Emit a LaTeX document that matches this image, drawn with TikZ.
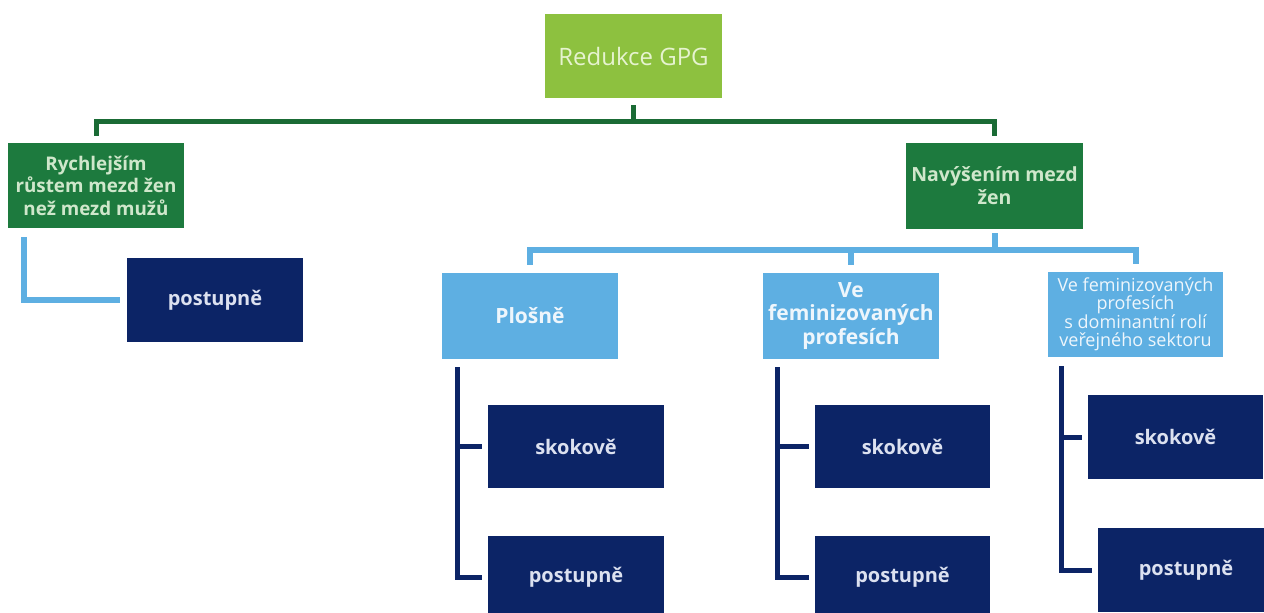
\documentclass[tikz,border=0pt]{standalone}
\usepackage{fontspec}
\setmainfont{Open Sans}
\usetikzlibrary{calc}
\definecolor{lgreen}{HTML}{8DC13F}
\definecolor{dgreen}{HTML}{1D7A3E}
\definecolor{gline}{HTML}{1A6B35}
\definecolor{lblue}{HTML}{5EAFE2}
\definecolor{navy}{HTML}{0C2466}
\definecolor{toptext}{HTML}{E6F3CF}
\definecolor{gtext}{HTML}{CFE7CB}
\definecolor{btext}{HTML}{EEF6FC}
\definecolor{ntext}{HTML}{DCE1F0}
\tikzset{
  box/.style={rectangle, inner sep=0pt, align=center, anchor=center},
  topbox/.style={box, fill=lgreen, text=toptext, minimum width=177pt, minimum height=84pt, font=\fontsize{24}{28}\selectfont},
  greenbox/.style={box, fill=dgreen, text=gtext, minimum width=176pt, minimum height=85pt, font=\bfseries\fontsize{18.8}{22.5}\selectfont},
  bluebox/.style={box, fill=lblue, text=btext, minimum width=176pt, minimum height=86pt, font=\bfseries\fontsize{21}{23.5}\selectfont},
  bluesmall/.style={box, fill=lblue, text=btext, minimum width=175pt, minimum height=85pt, font=\fontsize{18}{18.5}\selectfont},
  navybox/.style={box, fill=navy, text=ntext, minimum width=176pt, minimum height=84pt, font=\bfseries\fontsize{20}{24}\selectfont},
  gconn/.style={draw=gline, line width=5pt},
  bconn/.style={draw=lblue, line width=6pt},
  nconn/.style={draw=navy, line width=5pt},
}
\begin{document}
\begin{tikzpicture}[x=1pt,y=-1pt]
\useasboundingbox (0,0) rectangle (1264,613);
\node[topbox] (top) at (633.5,56) {Redukce GPG};
\node[greenbox] (L) at (96,185.5) {Rychlejším\\růstem mezd žen\\než mezd mužů};
\node[greenbox, minimum width=177pt, minimum height=86pt, font=\bfseries\fontsize{19.5}{23}\selectfont] (R) at (994.5,186) {Navýšením mezd\\žen};
\node[navybox] (pL) at (215,300) {postupně};
\node[bluebox] (b1) at (530,316) {Plošně};
\node[bluebox] (b2) at (851,316) {Ve\\feminizovaných\\profesích};
\node[bluesmall] (b3) at (1135.5,314.5) {Ve feminizovaných\\profesích\\s dominantní rolí\\veřejného sektoru};
\node[navybox, minimum height=83pt] (d11) at (576,446.5) {skokově};
\node[navybox, minimum height=83pt] (d12) at (576,577.5) {postupně};
\node[navybox, minimum width=175pt, minimum height=83pt] (d21) at (902.5,446.5) {skokově};
\node[navybox, minimum width=175pt, minimum height=83pt] (d22) at (902.5,577.5) {postupně};
\node[navybox, minimum width=175pt] (d31) at (1175.5,437) {skokově};
\node[navybox] (d32) at (1186,570) {postupně};
% green connectors
\coordinate (gbus) at (633.5,121);
\draw[gconn, shorten <=7pt] (top.south) -- (gbus);
\draw[gconn, shorten >=7pt] (gbus) -| (L.north);
\draw[gconn, shorten >=7pt] (gbus) -| (R.north);
% light blue connectors
\draw[bconn, shorten >=7pt] ($(L.south west)+(16,9)$) |- (pL.west);
\coordinate (bbus) at (994.5,250);
\draw[bconn, shorten <=4pt] (R.south) -- (bbus);
\draw[bconn, shorten >=8pt] (bbus) -| (b1.north);
\draw[bconn, shorten >=8pt] (bbus) -| (b2.north);
\draw[bconn, shorten >=8pt] (bbus) -| (b3.north);
% navy connectors
\draw[nconn, shorten >=6pt] ($(b1.south west)+(16,8)$) |- (d11.west);
\draw[nconn, shorten >=6pt] ($(b1.south west)+(16,8)$) |- (d12.west);
\draw[nconn, shorten >=6pt] ($(b2.south west)+(15,8)$) |- (d21.west);
\draw[nconn, shorten >=6pt] ($(b2.south west)+(15,8)$) |- (d22.west);
\draw[nconn, shorten >=6pt] ($(b3.south west)+(14,9)$) |- (d31.west);
\draw[nconn, shorten >=6pt] ($(b3.south west)+(14,9)$) |- (d32.west);
\end{tikzpicture}
\end{document}
